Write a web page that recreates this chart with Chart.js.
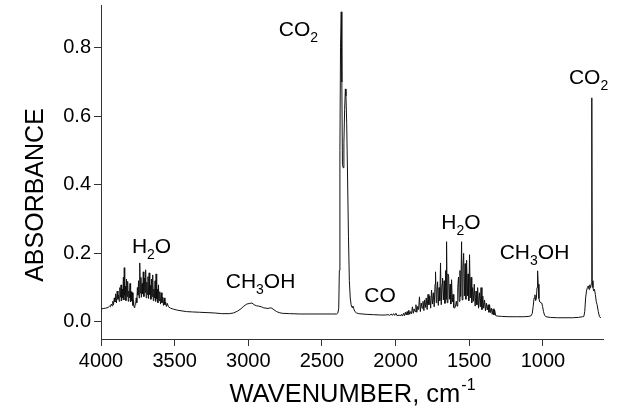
<!DOCTYPE html>
<html>
<head>
<meta charset="utf-8">
<script src="https://cdn.jsdelivr.net/npm/chart.js@4.4.0/dist/chart.umd.min.js"></script>
<style>
  html, body { margin: 0; padding: 0; background: #fff; }
</style>
</head>
<body>
<canvas id="myChart" width="640" height="416"></canvas>
<script>
// IR spectrum, [wavenumber cm-1, absorbance]
const xTicks = [4000, 3500, 3000, 2500, 2000, 1500, 1000];
const yTicks = [0.0, 0.2, 0.4, 0.6, 0.8];

const waterStretch = [
  [4000,0.038],[3985,0.039],[3968,0.04],[3952,0.042],[3942,0.046],[3936,0.044],[3930,0.052],[3925,0.047],
  [3920,0.06],[3915,0.05],[3910,0.07],[3905,0.058],[3900,0.082],[3895,0.055],[3890,0.09],[3885,0.066],
  [3880,0.078],[3876,0.06],[3872,0.1],[3868,0.072],[3864,0.108],[3860,0.062],[3856,0.095],[3852,0.07],
  [3848,0.13],[3845,0.064],[3842,0.158],[3839,0.078],[3835,0.104],[3831,0.062],[3827,0.125],[3823,0.074],
  [3819,0.118],[3815,0.06],[3811,0.09],[3807,0.07],[3803,0.112],[3799,0.058],[3795,0.088],[3791,0.062],
  [3787,0.085],[3783,0.048],[3779,0.062],[3775,0.042],[3770,0.047],[3765,0.05],[3761,0.07],[3757,0.056],
  [3753,0.1],[3749,0.078],[3745,0.12],[3741,0.07],[3737,0.172],[3733,0.084],[3729,0.13],[3725,0.072],
  [3721,0.112],[3717,0.082],[3713,0.146],[3709,0.074],[3705,0.128],[3701,0.086],[3697,0.152],[3693,0.07],
  [3689,0.116],[3685,0.08],[3681,0.132],[3677,0.068],[3673,0.143],[3669,0.08],[3665,0.106],[3661,0.066],
  [3657,0.125],[3653,0.074],[3649,0.137],[3645,0.062],[3641,0.096],[3637,0.07],[3633,0.12],[3629,0.06],
  [3626,0.14],[3622,0.068],[3618,0.096],[3614,0.056],[3610,0.108],[3606,0.062],[3601,0.088],[3596,0.052],
  [3591,0.085],[3586,0.056],[3581,0.072],[3576,0.048],[3571,0.07],[3566,0.05],[3561,0.058],[3556,0.045],
  [3550,0.054],[3542,0.044],[3528,0.04],[3508,0.037],[3480,0.034],[3450,0.032],[3420,0.03]
];

const methanolStretch = [
  [3380,0.029],[3330,0.028],[3280,0.027],[3230,0.026],[3180,0.024],[3130,0.024],[3100,0.026],[3075,0.031],
  [3050,0.038],[3030,0.046],[3010,0.052],[2990,0.054],[2975,0.055],[2960,0.05],[2945,0.047],[2930,0.046],
  [2912,0.044],[2895,0.041],[2880,0.04],[2865,0.039],[2852,0.041],[2840,0.04],[2825,0.035],[2808,0.03],
  [2790,0.027],[2770,0.025],[2720,0.024],[2650,0.023],[2580,0.023],[2500,0.023],[2430,0.023]
];

const co2Stretch = [
  [2400,0.023],[2392,0.026],[2386,0.04],[2382,0.15],[2378,0.5],[2374,0.8],[2369,0.905],[2365,0.7],
  [2361,0.46],[2356,0.45],[2351,0.52],[2346,0.62],[2341,0.68],[2337,0.66],[2332,0.58],[2326,0.42],
  [2320,0.25],[2314,0.12],[2308,0.07],[2302,0.05],[2296,0.042],[2290,0.046],[2284,0.038],[2276,0.03],
  [2265,0.026]
];

const coRegion = [
  [2250,0.024],[2200,0.022],[2150,0.021],[2100,0.02],[2070,0.02],[2050,0.021],[2040,0.019],[2030,0.023],
  [2022,0.019],[2014,0.024],[2006,0.019],[1998,0.025]
];

const waterBend = [
  [1990,0.018],[1975,0.02],[1968,0.017],[1960,0.022],[1954,0.017],[1946,0.025],[1940,0.018],[1934,0.028],
  [1928,0.02],[1922,0.03],[1916,0.021],[1910,0.034],[1904,0.022],[1898,0.03],[1892,0.024],[1886,0.044],
  [1880,0.025],[1874,0.038],[1868,0.03],[1862,0.05],[1856,0.028],[1850,0.045],[1844,0.036],[1838,0.073],
  [1832,0.03],[1826,0.055],[1820,0.04],[1814,0.06],[1808,0.033],[1804,0.064],[1798,0.042],[1792,0.07],
  [1786,0.036],[1780,0.08],[1774,0.05],[1768,0.075],[1762,0.04],[1756,0.093],[1750,0.052],[1744,0.085],
  [1738,0.044],[1732,0.11],[1729,0.146],[1724,0.056],[1720,0.09],[1715,0.117],[1710,0.048],[1705,0.1],
  [1700,0.062],[1695,0.172],[1690,0.05],[1685,0.11],[1681,0.128],[1676,0.064],[1670,0.12],[1665,0.054],
  [1660,0.15],[1657,0.066],[1654,0.234],[1650,0.056],[1645,0.14],[1640,0.134],[1635,0.066],[1630,0.11],
  [1625,0.052],[1620,0.123],[1615,0.058],[1610,0.08],[1605,0.042],[1600,0.04],[1594,0.044],[1588,0.06],
  [1583,0.046],[1578,0.1],[1573,0.131],[1568,0.06],[1563,0.15],[1558,0.074],[1552,0.234],[1548,0.064],
  [1543,0.16],[1538,0.2],[1533,0.076],[1528,0.17],[1523,0.066],[1518,0.18],[1513,0.076],[1508,0.14],
  [1503,0.062],[1498,0.196],[1493,0.07],[1488,0.13],[1483,0.056],[1477,0.1],[1472,0.06],[1466,0.11],
  [1460,0.046],[1454,0.09],[1448,0.05],[1443,0.1],[1437,0.04],[1431,0.085],[1425,0.044],[1420,0.1],
  [1414,0.036],[1408,0.075],[1402,0.04],[1396,0.064],[1390,0.032],[1384,0.055],[1378,0.035],[1372,0.05],
  [1366,0.028],[1362,0.05],[1356,0.027],[1350,0.04],[1344,0.022],[1338,0.038],[1332,0.02],[1328,0.035],
  [1320,0.018],[1310,0.017]
];

const methanolCO = [
  [1280,0.016],[1230,0.015],[1180,0.015],[1130,0.015],[1095,0.016],[1080,0.018],[1072,0.025],[1066,0.045],
  [1060,0.07],[1054,0.079],[1049,0.062],[1044,0.07],[1040,0.1],[1036,0.149],[1032,0.11],[1027,0.068],
  [1021,0.058],[1014,0.056],[1008,0.055],[1002,0.045],[996,0.03],[989,0.02],[980,0.015],[950,0.013],
  [900,0.012],[850,0.012],[800,0.012],[760,0.013],[730,0.015]
];

const co2Bend = [
  [722,0.016],[716,0.03],[710,0.07],[704,0.09],[698,0.1],[692,0.105],[687,0.095],[682,0.108],
  [676,0.1],[671,0.112],[668,0.654],[665,0.12],[660,0.1],[655,0.09],[650,0.095],[644,0.08],
  [638,0.06],[632,0.05],[624,0.03],[616,0.015],[606,0.012]
];

// band labels, '_' marks a subscript digit; anchored at [wavenumber, absorbance]
const bandLabels = ['CO_2', 'H_2O', 'CH_3OH', 'CO', 'H_2O', 'CH_3OH', 'CO_2'];
const bandLabelAt = [[2660,0.834],[3657,0.201],[2917,0.099],[2106,0.058],[1556,0.271],[1057,0.184],[690,0.694]];

const FONT = '"Liberation Sans", Arial, Helvetica, sans-serif';

const spectrum = [].concat(waterStretch, methanolStretch, co2Stretch, coRegion, waterBend, methanolCO, co2Bend)
  .map(p => ({ x: p[0], y: p[1] }));

// draw text with subscripts, centred on cx
function drawChem(ctx, str, cx, baseY, size) {
  const segs = [];
  for (let i = 0; i < str.length; i++) {
    if (str[i] === '_') { segs.push([str[i + 1], true]); i++; }
    else if (segs.length && !segs[segs.length - 1][1]) segs[segs.length - 1][0] += str[i];
    else segs.push([str[i], false]);
  }
  const subSize = Math.round(size * 0.68);
  let total = 0;
  segs.forEach(s => {
    ctx.font = (s[1] ? subSize : size) + 'px ' + FONT;
    s.push(ctx.measureText(s[0]).width);
    total += s[2];
  });
  let x = cx - total / 2;
  ctx.textAlign = 'left';
  ctx.textBaseline = 'alphabetic';
  segs.forEach(s => {
    ctx.font = (s[1] ? subSize : size) + 'px ' + FONT;
    ctx.fillText(s[0], x, s[1] ? baseY + 6 : baseY);
    x += s[2];
  });
}

const labelPlugin = {
  id: 'labels',
  afterDraw(chart) {
    const ctx = chart.ctx;
    const xs = chart.scales.x, ys = chart.scales.y;
    ctx.save();
    ctx.fillStyle = '#000';
    bandLabels.forEach((txt, i) => {
      drawChem(ctx, txt, xs.getPixelForValue(bandLabelAt[i][0]), ys.getPixelForValue(bandLabelAt[i][1]), 21);
    });

    // x title with superscript
    const area = chart.chartArea;
    ctx.font = '25.5px ' + FONT;
    const main = 'WAVENUMBER, cm';
    const w1 = ctx.measureText(main).width;
    ctx.font = '16px ' + FONT;
    const sup = '-1';
    const w2 = ctx.measureText(sup).width;
    let x0 = (area.left + area.right) / 2 - (w1 + w2) / 2;
    ctx.textAlign = 'left';
    ctx.textBaseline = 'alphabetic';
    ctx.font = '25.5px ' + FONT;
    ctx.fillText(main, x0, 402);
    ctx.font = '16px ' + FONT;
    ctx.fillText(sup, x0 + w1 + 1, 390);

    // y title
    ctx.translate(43, (area.top + area.bottom) / 2 + 23);
    ctx.rotate(-Math.PI / 2);
    ctx.font = '25px ' + FONT;
    ctx.textAlign = 'center';
    ctx.fillText('ABSORBANCE', 0, 0);
    ctx.restore();
  }
};

var ctx = document.getElementById('myChart').getContext('2d');
var myChart = new Chart(ctx, {
  type: 'line',
  data: {
    datasets: [{
      data: spectrum,
      borderColor: '#111',
      borderWidth: 1,
      pointRadius: 0,
      tension: 0,
      fill: false
    }]
  },
  options: {
    responsive: false,
    animation: false,
    devicePixelRatio: 1,
    layout: { padding: { top: 5, right: 37, left: 0, bottom: 0 } },
    plugins: { legend: { display: false }, tooltip: { enabled: false } },
    scales: {
      x: {
        type: 'linear',
        reverse: true,
        min: 592,
        max: 4000,
        afterBuildTicks: s => { s.ticks = xTicks.map(v => ({ value: v })); },
        afterFit: s => { s.height = 77; s.paddingLeft = 0; s.paddingRight = 0; },
        grid: { drawOnChartArea: false, drawTicks: true, tickLength: 7, color: '#333' },
        border: { display: true, color: '#333', width: 1 },
        ticks: { color: '#000', font: { size: 20, family: FONT }, padding: 3, maxRotation: 0, autoSkip: false,
                 callback: v => String(v) }
      },
      y: {
        min: -0.05,
        max: 0.925,
        afterBuildTicks: s => { s.ticks = yTicks.map(v => ({ value: v })); },
        afterFit: s => { s.width = 101; s.paddingTop = 0; s.paddingBottom = 0; },
        grid: { drawOnChartArea: false, drawTicks: true, tickLength: 7, color: '#333' },
        border: { display: true, color: '#333', width: 1 },
        ticks: { color: '#000', font: { size: 20, family: FONT }, padding: 3, callback: v => v.toFixed(1) }
      }
    }
  },
  plugins: [labelPlugin]
});
</script>
</body>
</html>
